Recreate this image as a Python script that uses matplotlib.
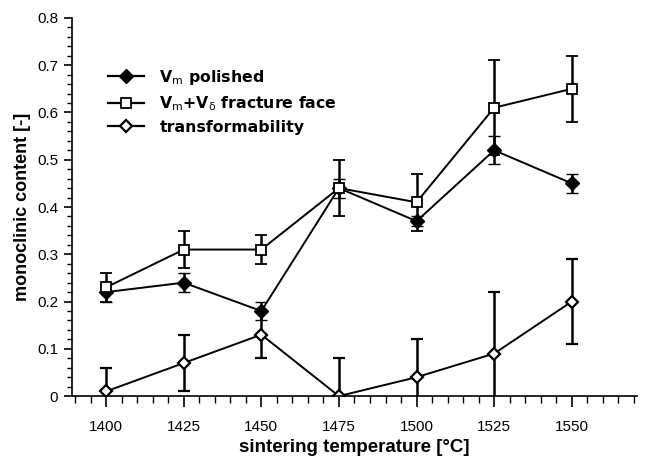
import numpy as np
import matplotlib.pyplot as plt
from matplotlib.lines import Line2D
from matplotlib.ticker import MultipleLocator

plt.rcParams['font.family'] = ['Liberation Sans', 'DejaVu Sans']
plt.rcParams['mathtext.fontset'] = 'custom'
plt.rcParams['mathtext.rm'] = 'DejaVu Sans'

# sintering temperatures
temp = [1400, 1425, 1450, 1475, 1500, 1525, 1550]

# V_m polished
polished = [0.22, 0.24, 0.18, 0.44, 0.37, 0.52, 0.45]
polished_err = [0.02, 0.02, 0.02, 0.02, 0.01, 0.03, 0.02]

# V_m + V_delta fracture face
fracture = [0.23, 0.31, 0.31, 0.44, 0.41, 0.61, 0.65]
fracture_err = [0.03, 0.04, 0.03, 0.06, 0.06, 0.10, 0.07]

# transformability
transf = [0.01, 0.07, 0.13, 0.00, 0.04, 0.09, 0.20]
transf_err = [0.05, 0.06, 0.05, 0.08, 0.08, 0.13, 0.09]

labels = [r'V$_{\rm m}$ polished',
          r'V$_{\rm m}$+V$_{\rm δ}$ fracture face',
          'transformability']

fig = plt.figure(figsize=(6.48, 4.59), dpi=100)
ax = fig.add_axes([0.111, 0.137, 0.872, 0.824])

common = dict(color='black', ecolor='black', elinewidth=1.8, capsize=4.5,
              capthick=1.8, lw=1.4)

styles = [dict(marker='D', ms=7, mfc='black', mec='black', mew=1.0),
          dict(marker='s', ms=7, mfc='white', mec='black', mew=1.3),
          dict(marker='D', ms=6, mfc='white', mec='black', mew=1.6)]

for y, e, st in zip([polished, fracture, transf],
                    [polished_err, fracture_err, transf_err], styles):
    ax.errorbar(temp, y, yerr=e, **st, **common)

ax.set_xlim(1389, 1571)
ax.set_ylim(0, 0.8)
ax.xaxis.set_major_locator(MultipleLocator(25))
ax.xaxis.set_minor_locator(MultipleLocator(5))
ax.yaxis.set_major_locator(MultipleLocator(0.1))
ax.yaxis.set_minor_locator(MultipleLocator(0.02))
ax.set_yticks(ax.get_yticks())
ax.set_yticklabels(['0' if v == 0 else f'{v:.1f}' for v in ax.get_yticks()])
ax.set_ylim(0, 0.8)

ax.spines['top'].set_visible(False)
ax.spines['right'].set_visible(False)
ax.spines['left'].set_linewidth(1.2)
ax.spines['bottom'].set_linewidth(1.2)
ax.tick_params(axis='x', which='major', direction='out', length=8, width=1.2,
               labelsize=11, pad=9)
ax.tick_params(axis='x', which='minor', direction='out', length=5, width=1.0)
ax.tick_params(axis='y', which='major', direction='out', length=6, width=1.2,
               labelsize=11, pad=4)
ax.tick_params(axis='y', which='minor', direction='out', length=3.5, width=1.0)

ax.set_xlabel('sintering temperature [°C]', fontsize=13.5, fontweight='bold',
              labelpad=4)
ax.set_ylabel('monoclinic content [-]', fontsize=13, fontweight='bold',
              labelpad=4)

handles = [Line2D([], [], color='black', lw=1.6, **st) for st in styles]
leg = ax.legend(handles, labels, loc='upper left',
                bbox_to_anchor=(0.038, 0.905), frameon=False,
                handlelength=2.35, handletextpad=0.95, labelspacing=0.45,
                prop={'family': ['DejaVu Sans'], 'weight': 'bold',
                      'size': 11.3})

fig.savefig('out.png', dpi=100)
